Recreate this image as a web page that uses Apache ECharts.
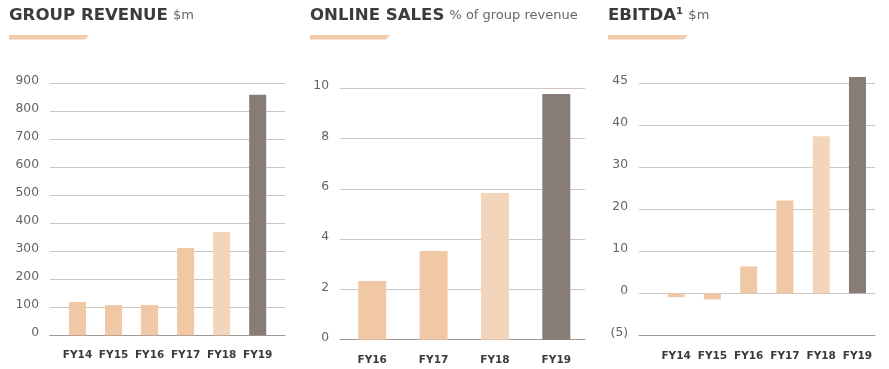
<!DOCTYPE html>
<html><head><meta charset="utf-8">
<script src="https://cdn.jsdelivr.net/npm/echarts@6/dist/echarts.min.js"></script>
<style>html,body{margin:0;padding:0;background:#fff}#c{width:889px;height:369px}</style>
</head><body><div id="c"></div>
<script>
// ---- data ----
const revCategories = ['FY14', 'FY15', 'FY16', 'FY17', 'FY18', 'FY19'];
const revValues = [119, 108, 108, 312, 369, 859];
const revTicks = [0, 100, 200, 300, 400, 500, 600, 700, 800, 900];

const onlineCategories = ['FY16', 'FY17', 'FY18', 'FY19'];
const onlineValues = [2.33, 3.53, 5.84, 9.77];
const onlineTicks = [0, 2, 4, 6, 8, 10];

const ebitdaCategories = ['FY14', 'FY15', 'FY16', 'FY17', 'FY18', 'FY19'];
const ebitdaValues = [-0.95, -1.45, 6.4, 22.1, 37.4, 51.5];
const ebitdaTickValues = [-10, 0, 10, 20, 30, 40, 50];
const ebitdaTickLabels = ['(5)', '0', '10', '20', '30', '40', '45'];

const titles = [
  { main: 'GROUP REVENUE', sub: '$m' },
  { main: 'ONLINE SALES', sub: '% of group revenue' },
  { main: 'EBITDA¹', sub: '$m' }
];

// ---- styles ----
const PEACH = '#f0c8a6', LIGHT = '#f3d5bc', TAUPE = '#877c76';
function colorsFor(cats) {
  return cats.map(c => c === 'FY19' ? TAUPE : (c === 'FY18' ? LIGHT : PEACH));
}
const GRID_LINE = '#cdc6c2', AXIS_LINE = '#a09893';
const TXT = '#3e3a3a', TICK = '#69625f';

const panels = [
  { lineLeft: 50, lineRight: 889 - 285, barLeft: 59.5, barWidth: 216.2, top: 83.3, bottom: 369 - 335.3,
    min: 0, max: 900, interval: 100, cats: revCategories, vals: revValues, barWidth_: 17, lblMargin: 14,
    fmt: v => String(v) },
  { lineLeft: 340, lineRight: 889 - 585, barLeft: 341.5, barWidth: 245.5, top: 88.3, bottom: 369 - 339.7,
    min: 0, max: 10, interval: 2, cats: onlineCategories, vals: onlineValues, barWidth_: 28, lblMargin: 15,
    fmt: v => String(v) },
  { lineLeft: 639, lineRight: 889 - 875, barLeft: 658, barWidth: 217.6, top: 83.3, bottom: 369 - 335.3,
    min: -10, max: 50, interval: 10, cats: ebitdaCategories, vals: ebitdaValues, barWidth_: 17, lblMargin: 15,
    fmt: v => { const i = ebitdaTickValues.indexOf(v); return i >= 0 ? ebitdaTickLabels[i] : ''; } }
];

const grid = [], xAxis = [], yAxis = [], series = [];
panels.forEach((p, k) => {
  const gL = grid.length;
  grid.push({ left: p.lineLeft, right: p.lineRight, top: p.top, bottom: p.bottom });
  grid.push({ left: p.barLeft, width: p.barWidth, top: p.top, bottom: p.bottom });
  // line grid axes
  xAxis.push({ gridIndex: gL, type: 'category', data: p.cats, axisLine: { onZero: false, lineStyle: { color: AXIS_LINE, width: 1.2 } },
    axisTick: { show: false }, axisLabel: { show: false } });
  yAxis.push({ gridIndex: gL, type: 'value', min: p.min, max: p.max, interval: p.interval,
    axisLine: { show: false }, axisTick: { show: false },
    splitLine: { lineStyle: { color: GRID_LINE, width: 1 } },
    axisLabel: { color: TICK, fontFamily: 'DejaVu Sans', fontSize: 12.3, margin: 11, verticalAlign: 'bottom', lineHeight: 4, formatter: p.fmt } });
  // bar grid axes
  xAxis.push({ gridIndex: gL + 1, type: 'category', data: p.cats, axisLine: { show: false }, axisTick: { show: false },
    axisLabel: { color: TXT, fontFamily: 'DejaVu Sans', fontWeight: 'bold', fontSize: 10.5, margin: p.lblMargin, interval: 0 } });
  yAxis.push({ gridIndex: gL + 1, type: 'value', min: p.min, max: p.max, interval: p.interval, show: false, splitLine: { show: false } });
  const cols = colorsFor(p.cats);
  series.push({ type: 'bar', xAxisIndex: gL + 1, yAxisIndex: gL + 1, data: p.vals, barWidth: p.barWidth_, clip: false,
    itemStyle: { color: params => cols[params.dataIndex] }, silent: true, animation: false });
});

const titleX = [9, 310, 608];
const graphic = [];
titles.forEach((t, i) => {
  const x = titleX[i];
  graphic.push({ type: 'polygon', shape: { points: [[x, 35], [x + 80, 35], [x + 76, 39.5], [x, 39.5]] }, style: { fill: '#f2cbab' } });
});

const title = titles.map((t, i) => ({
  left: titleX[i], top: 7, padding: 0,
  text: '{a|' + t.main + '} {b|' + t.sub + '}',
  textStyle: { fontWeight: 'normal', rich: {
    a: { fontFamily: 'DejaVu Sans', fontWeight: 'bold', fontSize: 16.6, color: TXT },
    b: { fontFamily: 'DejaVu Sans', fontWeight: 'normal', fontSize: 13, color: '#6b6563' }
  } }
}));

const chart = echarts.init(document.getElementById('c'), null, { renderer: 'canvas' });
chart.setOption({ animation: false, title, grid, xAxis, yAxis, series, graphic });
</script></body></html>
